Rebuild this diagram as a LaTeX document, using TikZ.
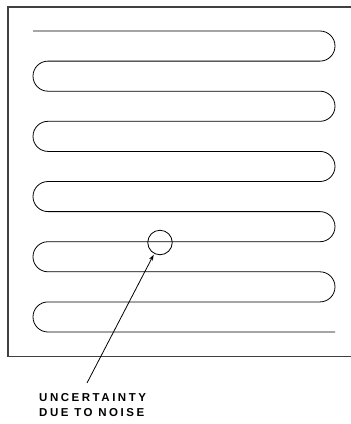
\documentclass[tikz,border=0pt]{standalone}
\usepackage{fontspec}
\setmainfont{Liberation Sans}
\usetikzlibrary{arrows.meta}
\begin{document}
\begin{tikzpicture}[x=1pt,y=-1pt,
  frame/.style={draw=black!75,line width=1.1pt},
  wire/.style={draw=black,line width=0.8pt,rounded corners=15pt},
  spot/.style={circle,draw,line width=0.8pt,minimum size=24.5pt,inner sep=0pt},
  caption/.style={align=left,font=\bfseries\fontsize{11.5}{14.5}\selectfont\addfontfeature{LetterSpace=22},inner sep=0pt},
  pointer/.style={draw,line width=0.8pt,-{Stealth[length=6pt,width=4pt]},shorten >=1pt}]
\useasboundingbox (0,0) rectangle (351,424);
% frame
\draw[frame] (351,7) -- (8,7) -- (8,356.5) -- (351,356.5);
% serpentine trace
\draw[wire] (33,31) -- (335,31) -- (335,61.1) -- (33,61.1) -- (33,91.2) -- (335,91.2)
  -- (335,121.3) -- (33,121.3) -- (33,151.4) -- (335,151.4) -- (335,181.5) -- (33,181.5)
  -- (33,211.6) -- (335,211.6) -- (335,241.7) -- (33,241.7) -- (33,271.8) -- (335,271.8)
  -- (335,301.9) -- (33,301.9) -- (33,332) -- (335,332);
% noise circle
\node[spot] (noise) at (160,242.5) {};
% caption
\node[caption,anchor=north west] (label) at (39,393.5) {UNCERTAINTY\\DUE TO NOISE};
\coordinate (tail) at (87,383);
\draw[pointer] (tail) -- (noise);
\end{tikzpicture}
\end{document}
